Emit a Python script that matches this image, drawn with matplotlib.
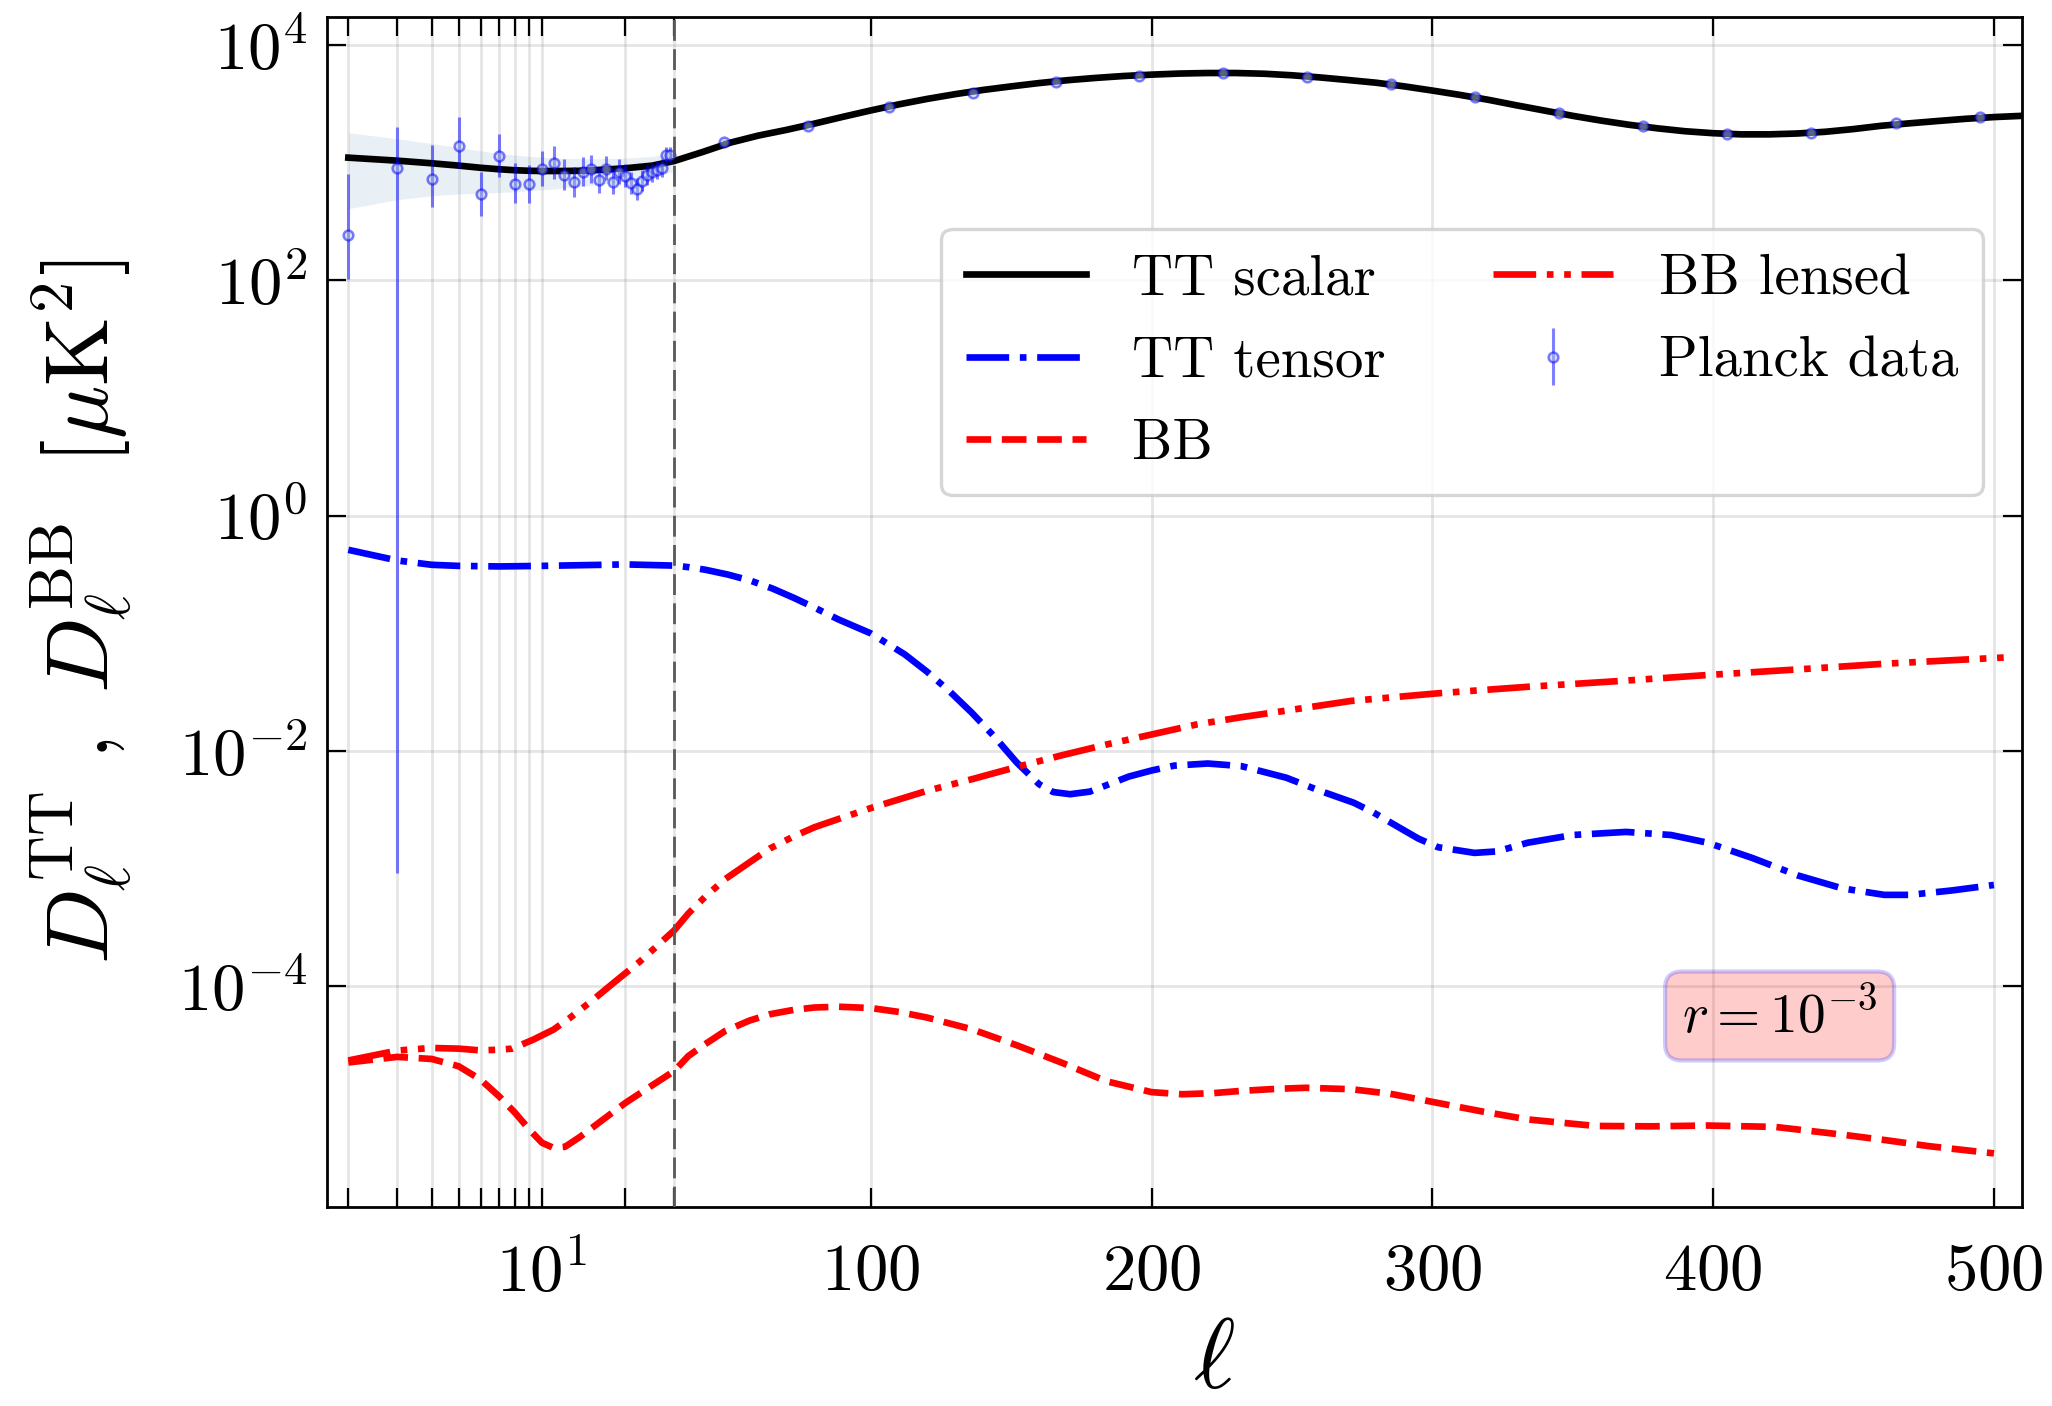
import numpy as np
import matplotlib
matplotlib.use("Agg")
import matplotlib.pyplot as plt
from matplotlib.ticker import FixedLocator, NullLocator, FixedFormatter

plt.rcParams.update({
    "font.family": "serif",
    "font.serif": ["cmr10"],
    "mathtext.fontset": "cm",
    "axes.unicode_minus": False,
    "axes.formatter.use_mathtext": True,
})

# ---------------- data ----------------
tt_scalar_ell = [2, 3, 4, 5, 6, 7, 8, 9, 10, 12, 14.5, 20, 25, 30, 40, 50, 60, 70, 80, 90,
                 100, 110, 120, 130, 140, 150, 160, 170, 180, 190, 200, 210, 220, 230, 240,
                 250, 260, 270, 280, 290, 300, 310, 320, 330, 340, 350, 360, 370, 380, 390,
                 400, 410, 420, 430, 440, 450, 460, 470, 480, 490, 500, 510]
tt_scalar_D = [1103, 1040, 988, 944, 905, 879, 862, 853, 849, 850, 855, 896, 944, 1033, 1230,
               1480, 1700, 1900, 2150, 2450, 2780, 3130, 3480, 3820, 4150, 4450, 4750, 5020,
               5250, 5450, 5600, 5720, 5780, 5780, 5700, 5530, 5300, 5040, 4780, 4450, 4100,
               3760, 3420, 3070, 2770, 2500, 2280, 2100, 1960, 1850, 1780, 1740, 1740, 1770,
               1830, 1930, 2060, 2160, 2260, 2360, 2440, 2500]

# cosmic-variance band around the scalar TT curve (low ell)
band_ell = [2, 3, 4, 5, 6, 7, 8, 9, 10, 12, 14.5, 20, 25, 30]
band_lo = [406, 484, 523, 542, 550, 558, 566, 577, 587, 610, 634, 698, 757, 846]
band_hi = [1800, 1596, 1453, 1346, 1260, 1200, 1158, 1129, 1111, 1090, 1076, 1094, 1131, 1220]

tt_tensor_ell = [2, 3, 4, 5, 7, 10, 20, 30, 35, 41, 49, 57, 65, 72.6, 80, 88.5, 100, 112, 120,
                 128, 136, 144, 152, 160, 165, 171, 178, 184, 192, 200, 208, 220, 232, 248,
                 260, 272, 279, 287, 295, 302, 315, 323, 334, 350, 369, 385, 398, 414, 430,
                 446, 461, 470, 485, 500]
tt_tensor_D = [0.512, 0.416, 0.382, 0.374, 0.370, 0.374, 0.385, 0.376, 0.365, 0.347, 0.316,
               0.281, 0.240, 0.200, 0.165, 0.131, 0.0998, 0.0664, 0.0472, 0.0322, 0.0211,
               0.01324, 0.00796, 0.00520, 0.00447, 0.00429, 0.00451, 0.00512, 0.00607,
               0.00682, 0.00750, 0.00782, 0.00743, 0.00592, 0.00458, 0.00363, 0.00300,
               0.00232, 0.00180, 0.00152, 0.00136, 0.00140, 0.00166, 0.00193, 0.00205,
               0.00193, 0.00166, 0.00123, 0.000877, 0.000679, 0.000598, 0.000598, 0.000652,
               0.000726]

bb_ell = [2, 3, 4, 5, 6, 7, 8, 9, 10, 11, 12.1, 13.7, 16.6, 20, 25.2, 30, 35, 40.9, 48, 56.8,
          64, 72.6, 80, 88.5, 100, 110, 120, 136, 152, 168, 184, 200, 211, 222, 232, 245, 255,
          271, 285, 302, 318, 334, 358, 378, 398, 422, 446, 462, 477, 500]
bb_D = [2.25e-5, 2.51e-5, 2.41e-5, 2.09e-5, 1.61e-5, 1.16e-5, 8.38e-6, 6.05e-6, 4.67e-6,
        4.23e-6, 4.32e-6, 5.24e-6, 7.36e-6, 1.021e-5, 1.459e-5, 1.905e-5, 2.55e-5, 3.21e-5,
        4.15e-5, 5.11e-5, 5.78e-5, 6.31e-5, 6.60e-5, 6.70e-5, 6.53e-5, 6.05e-5, 5.42e-5,
        4.31e-5, 3.15e-5, 2.24e-5, 1.556e-5, 1.259e-5, 1.208e-5, 1.235e-5, 1.291e-5,
        1.345e-5, 1.371e-5, 1.334e-5, 1.22e-5, 1.019e-5, 8.6e-6, 7.38e-6, 6.50e-6, 6.45e-6,
        6.55e-6, 6.38e-6, 5.48e-6, 4.90e-6, 4.37e-6, 3.8e-6]

bb_lensed_ell = [2, 3, 4, 5, 6, 7, 7.8, 9.3, 11, 12.6, 15.3, 18.1, 22.6, 30, 35, 40.9, 48,
                 56.8, 64, 72.6, 80, 88.5, 100, 120, 136, 152, 168, 184, 200, 216, 232, 248,
                 271, 302, 334, 366, 398, 430, 461, 505]
bb_lensed_D = [2.34e-5, 2.84e-5, 2.99e-5, 2.95e-5, 2.85e-5, 2.89e-5, 2.95e-5, 3.52e-5,
               4.28e-5, 5.38e-5, 7.69e-5, 1.067e-4, 1.63e-4, 2.99e-4, 4.15e-4, 5.73e-4,
               8.1e-4, 1.13e-3, 1.48e-3, 1.88e-3, 2.25e-3, 2.64e-3, 3.27e-3, 4.58e-3,
               5.75e-3, 7.31e-3, 9.18e-3, 0.01135, 0.01380, 0.01679, 0.01936, 0.02203,
               0.02661, 0.0309, 0.0351, 0.0392, 0.0442, 0.0493, 0.0551, 0.0625]

# Planck data: unbinned low-ell
planck_lo_ell = list(range(2, 30))
planck_lo_D = [243, 896, 728, 1394, 546, 1133, 663, 659, 883, 994, 785, 681, 828, 883, 708,
               889, 685, 839, 771, 677, 601, 700, 790, 830, 866, 902, 1161, 1161]
planck_lo_min = [102, 9.2e-4, 423, 896, 352, 760, 457, 457, 634, 723, 586, 514, 634, 677,
                 550, 713, 538, 655, 618, 538, 482, 570, 650, 690, 720, 750, 980, 980]
planck_lo_max = [802, 2020, 1413, 2430, 839, 1754, 988, 955, 1256, 1387, 1081, 925, 1111,
                 1161, 925, 1146, 879, 1075, 968, 839, 736, 860, 960, 1000, 1040, 1080,
                 1370, 1370]
# Planck data: binned high-ell
planck_hi_ell = [47.7, 77.6, 106.5, 136.5, 166, 195.6, 225.4, 255.4, 285.3, 315.2, 345.2,
                 375.1, 405.1, 435.0, 465.0, 494.9]
planck_hi_D = [1507, 2050, 2990, 3890, 4870, 5480, 5820, 5380, 4670, 3595, 2660, 2050, 1754,
               1800, 2160, 2430]
planck_hi_err = [60, 55, 60, 65, 70, 70, 70, 65, 55, 45, 35, 28, 24, 22, 24, 26]

x_major = [10, 100, 200, 300, 400, 500]
x_major_labels = [r"$10^1$", r"$100$", r"$200$", r"$300$", r"$400$", r"$500$"]
x_minor = [2, 3, 4, 5, 6, 7, 8, 9, 20, 30]
y_major = [1e-4, 1e-2, 1e0, 1e2, 1e4]
y_major_labels = [r"$10^{-4}$", r"$10^{-2}$", r"$10^{0}$", r"$10^{2}$", r"$10^{4}$"]

# ---------------- hybrid log/linear ell axis ----------------
L_SPLIT = 30.0
K_LIN = 2.8075 / 277.1  # decades per unit ell in the linear part


def fwd(x):
    x = np.asarray(x, dtype=float)
    xs = np.clip(x, 1e-12, None)
    return np.where(x < L_SPLIT, np.log10(xs), np.log10(L_SPLIT) + (x - L_SPLIT) * K_LIN)


def inv(y):
    y = np.asarray(y, dtype=float)
    ys = np.clip(y, -30, 30)
    return np.where(y < np.log10(L_SPLIT), 10 ** ys, L_SPLIT + (y - np.log10(L_SPLIT)) / K_LIN)


fig = plt.figure(figsize=(10.26, 7.03), dpi=200)
ax = fig.add_axes([327 / 2052, 1 - 1207 / 1406, 1695 / 2052, 1190 / 1406])
ax.set_xscale("function", functions=(fwd, inv))
ax.set_yscale("log")

lw = 2.4
ax.fill_between(band_ell, band_lo, band_hi, color="steelblue", alpha=0.12, lw=0, zorder=1)
ax.plot(tt_scalar_ell, tt_scalar_D, color="black", lw=lw, label="TT scalar", zorder=3)
ax.plot(tt_tensor_ell, tt_tensor_D, color="blue", lw=lw, ls="-.", label="TT tensor", zorder=3)
ax.plot(bb_ell, bb_D, color="red", lw=lw, ls="--", label="BB", zorder=3)
ax.plot(bb_lensed_ell, bb_lensed_D, color="red", lw=lw,
        ls=(0, (6.4, 1.6, 1.0, 1.6, 1.0, 1.6)), label="BB lensed", zorder=3)

lo_D = np.array(planck_lo_D, dtype=float)
yerr_lo = np.vstack([lo_D - np.array(planck_lo_min), np.array(planck_lo_max) - lo_D])
eb_kw = dict(fmt="o", color="blue", ecolor="blue", alpha=0.5, ms=3.5, mew=0.9,
             mfc="lightsteelblue", mec="blue", elinewidth=1.1, capsize=0, zorder=4)
ax.errorbar(planck_lo_ell, planck_lo_D, yerr=yerr_lo, label="Planck data", **eb_kw)
ax.errorbar(planck_hi_ell, planck_hi_D, yerr=planck_hi_err, **eb_kw)

ax.axvline(L_SPLIT, color="0.35", lw=1.0, ls=(0, (7.5, 3)), zorder=5)

ax.set_xlim(1.675, 510)
ax.set_ylim(1.33e-6, 1.73e4)

ax.xaxis.set_major_locator(FixedLocator(x_major))
ax.xaxis.set_major_formatter(FixedFormatter(x_major_labels))
ax.xaxis.set_minor_locator(FixedLocator(x_minor))
ax.xaxis.set_minor_formatter(FixedFormatter([""] * len(x_minor)))
ax.yaxis.set_major_locator(FixedLocator(y_major))
ax.yaxis.set_major_formatter(FixedFormatter(y_major_labels))
ax.yaxis.set_minor_locator(NullLocator())

ax.tick_params(which="both", direction="in", top=True, right=True, length=7, width=0.8,
               labelsize=24)
ax.tick_params(axis="x", which="both", pad=13)
ax.tick_params(axis="y", which="both", pad=7)
for s in ax.spines.values():
    s.set_linewidth(1.0)

ax.set_axisbelow(True)
ax.grid(True, which="major", axis="both", color="0.5", alpha=0.2, lw=1.0)
ax.grid(True, which="minor", axis="x", color="0.5", alpha=0.2, lw=1.0)

ax.set_xlabel(r"$\ell$", fontsize=36)
ax.xaxis.set_label_coords(0.5233, -0.094)
ax.set_ylabel(r"$D_\ell^{\rm TT}\ ,\ D_\ell^{\rm BB}\ \ [\mu{\rm K}^2]$", fontsize=32)
ax.yaxis.set_label_coords(-0.113, 0.5)

leg = ax.legend(ncol=2, fontsize=20.5, loc="upper right", bbox_to_anchor=(0.977, 0.822),
                borderaxespad=0, handlelength=2.1, handletextpad=0.8, columnspacing=1.9,
                labelspacing=0.55, fancybox=True, framealpha=0.8, edgecolor="0.8",
                borderpad=0.44)
leg.get_frame().set_linewidth(1.2)

ax.text(0.857, 0.1605, r"$r = 10^{-3}$", transform=ax.transAxes, ha="center", va="center",
        fontsize=20, zorder=6,
        bbox=dict(boxstyle="round,pad=0.3", facecolor=(1, 0, 0, 0.2),
                  edgecolor=(0, 0, 1, 0.2), lw=1.5))

fig.savefig("out.png", dpi=200)
